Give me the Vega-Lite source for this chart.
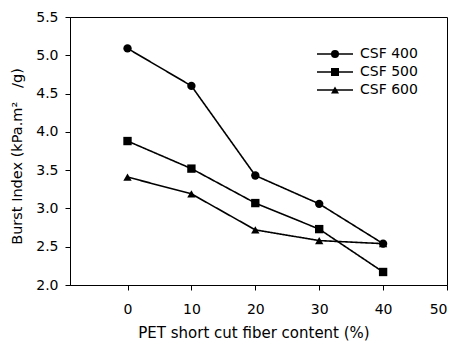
{
  "$schema": "https://vega.github.io/schema/vega-lite/v6.json",
  "width": 377,
  "height": 268,
  "autosize": "none",
  "padding": {"left": 70, "top": 17, "right": 10, "bottom": 56},
  "background": "white",
  "config": {
    "font": "DejaVu Sans",
    "view": {"stroke": "black", "strokeWidth": 1},
    "axis": {
      "grid": false,
      "domainColor": "black",
      "tickColor": "black",
      "labelColor": "black",
      "titleColor": "black",
      "labelFont": "DejaVu Sans",
      "titleFont": "DejaVu Sans",
      "labelFontSize": 14,
      "titleFontWeight": "normal",
      "tickSize": 5
    },
    "legend": {"labelFont": "DejaVu Sans"}
  },
  "data": {
    "values": [
      {"fiber": 0, "burst": 5.09, "series": "CSF 400"},
      {"fiber": 10, "burst": 4.60, "series": "CSF 400"},
      {"fiber": 20, "burst": 3.43, "series": "CSF 400"},
      {"fiber": 30, "burst": 3.06, "series": "CSF 400"},
      {"fiber": 40, "burst": 2.54, "series": "CSF 400"},
      {"fiber": 0, "burst": 3.88, "series": "CSF 500"},
      {"fiber": 10, "burst": 3.52, "series": "CSF 500"},
      {"fiber": 20, "burst": 3.07, "series": "CSF 500"},
      {"fiber": 30, "burst": 2.73, "series": "CSF 500"},
      {"fiber": 40, "burst": 2.17, "series": "CSF 500"},
      {"fiber": 0, "burst": 3.41, "series": "CSF 600"},
      {"fiber": 10, "burst": 3.19, "series": "CSF 600"},
      {"fiber": 20, "burst": 2.72, "series": "CSF 600"},
      {"fiber": 30, "burst": 2.58, "series": "CSF 600"},
      {"fiber": 40, "burst": 2.54, "series": "CSF 600"}
    ]
  },
  "encoding": {
    "x": {
      "field": "fiber",
      "type": "quantitative",
      "scale": {"domain": [-9, 50], "nice": false, "zero": false},
      "axis": {
        "values": [0, 10, 20, 30, 40, 50],
        "title": "PET short cut fiber content (%)",
        "labelPadding": 12,
        "titleFontSize": 15,
        "titleBaseline": "alphabetic",
        "titleX": 183.5,
        "titleY": 52.5,
        "titleAlign": "center"
      }
    },
    "y": {
      "field": "burst",
      "type": "quantitative",
      "scale": {"domain": [2, 5.5], "nice": false, "zero": false},
      "axis": {
        "values": [2, 2.5, 3, 3.5, 4, 4.5, 5, 5.5],
        "format": ".1f",
        "title": "Burst Index (kPa.m²\u00a0\u00a0\u00a0/g)",
        "labelPadding": 7,
        "titleFontSize": 14.5,
        "titleAngle": 270,
        "titleBaseline": "alphabetic",
        "titleAlign": "center",
        "titleX": -49,
        "titleY": 139
      }
    }
  },
  "layer": [
    {
      "mark": {"type": "line", "color": "black", "strokeWidth": 1.6},
      "encoding": {
        "strokeDash": {
          "field": "series",
          "type": "nominal",
          "scale": {"range": [[1, 0], [1, 0], [1, 0]]},
          "legend": {
            "title": null,
            "orient": "none",
            "legendX": 244,
            "legendY": 30,
            "symbolType": "M-4.5,0H4.5",
            "symbolSize": 64,
            "symbolOffset": 14,
            "labelOffset": 18,
            "labelFontSize": 14,
            "labelColor": "black",
            "labelOpacity": 0,
            "rowPadding": 4,
            "symbolStrokeColor": "black",
            "symbolStrokeWidth": 1.6
          }
        }
      }
    },
    {
      "mark": {"type": "point", "filled": true, "color": "black", "opacity": 1, "size": 70},
      "encoding": {
        "shape": {
          "field": "series",
          "type": "nominal",
          "scale": {"domain": ["CSF 400", "CSF 500", "CSF 600"], "range": ["circle", "square", "triangle-up"]},
          "legend": {
            "title": null,
            "orient": "none",
            "legendX": 244,
            "legendY": 30,
            "symbolSize": 64,
            "symbolOffset": 14,
            "labelOffset": 18,
            "labelFontSize": 14,
            "labelColor": "black",
            "rowPadding": 4,
            "symbolFillColor": "black",
            "symbolStrokeColor": "black",
            "symbolStrokeWidth": 0
          }
        }
      }
    }
  ]
}
